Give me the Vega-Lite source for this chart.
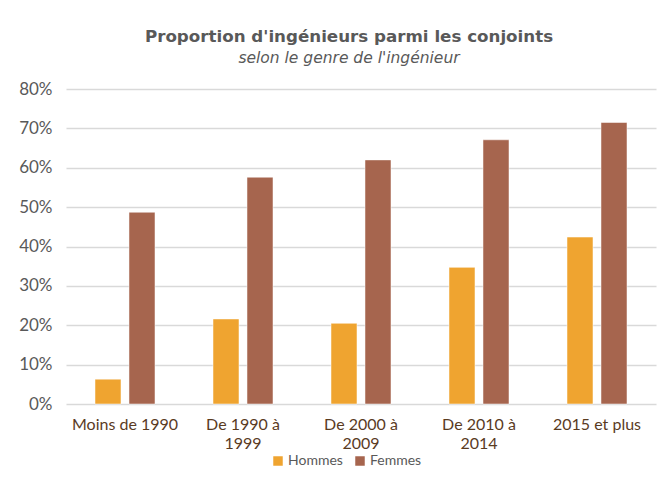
{
  "$schema": "https://vega.github.io/schema/vega-lite/v6.json",
  "width": 590,
  "height": 315,
  "autosize": {"type": "none"},
  "padding": {"left": 66, "top": 89, "right": 12, "bottom": 75},
  "background": "white",
  "title": {
    "text": "Proportion d'ingénieurs parmi les conjoints",
    "subtitle": "selon le genre de l'ingénieur",
    "anchor": "middle",
    "frame": "group",
    "dx": -12,
    "offset": 14,
    "font": "DejaVu Sans",
    "fontSize": 16.7,
    "fontWeight": "bold",
    "color": "#595959",
    "subtitleFont": "DejaVu Sans",
    "subtitleFontSize": 15.5,
    "subtitleFontStyle": "italic",
    "subtitleColor": "#595959",
    "subtitlePadding": 5
  },
  "data": {
    "values": [
      {"periode": "Moins de 1990", "genre": "Hommes", "valeur": 6.3},
      {"periode": "Moins de 1990", "genre": "Femmes", "valeur": 48.7},
      {"periode": "De 1990 à 1999", "genre": "Hommes", "valeur": 21.6},
      {"periode": "De 1990 à 1999", "genre": "Femmes", "valeur": 57.6},
      {"periode": "De 2000 à 2009", "genre": "Hommes", "valeur": 20.5},
      {"periode": "De 2000 à 2009", "genre": "Femmes", "valeur": 62.0},
      {"periode": "De 2010 à 2014", "genre": "Hommes", "valeur": 34.7},
      {"periode": "De 2010 à 2014", "genre": "Femmes", "valeur": 67.1},
      {"periode": "2015 et plus", "genre": "Hommes", "valeur": 42.4},
      {"periode": "2015 et plus", "genre": "Femmes", "valeur": 71.5}
    ]
  },
  "mark": {"type": "bar", "stroke": "#ffffff", "strokeOpacity": 0.5, "strokeWidth": 1},
  "encoding": {
    "x": {
      "field": "periode",
      "type": "nominal",
      "sort": null,
      "title": null,
      "scale": {"paddingInner": 0, "paddingOuter": 0},
      "axis": {
        "labelAngle": 0,
        "labelExpr": "length(datum.value) > 13 ? [substring(datum.value, 0, 9), substring(datum.value, 10)] : datum.value",
        "labelFont": "Lato",
        "labelFontSize": 16,
        "labelColor": "#5a3b1f",
        "labelPadding": 12,
        "labelLineHeight": 19,
        "ticks": false,
        "domain": false
      }
    },
    "xOffset": {
      "field": "genre",
      "type": "nominal",
      "sort": ["Hommes", "Femmes"],
      "scale": {"paddingInner": 0.235, "paddingOuter": 0.853}
    },
    "y": {
      "field": "valeur",
      "type": "quantitative",
      "title": null,
      "scale": {"domain": [0, 80]},
      "axis": {
        "values": [0, 10, 20, 30, 40, 50, 60, 70, 80],
        "labelExpr": "datum.value + '%'",
        "labelFont": "Lato",
        "labelFontSize": 17,
        "labelColor": "#595959",
        "labelPadding": 14,
        "ticks": false,
        "domain": false,
        "gridColor": "#d9d9d9",
        "gridWidth": 1.5
      }
    },
    "color": {
      "field": "genre",
      "type": "nominal",
      "sort": ["Hommes", "Femmes"],
      "scale": {"domain": ["Hommes", "Femmes"], "range": ["#efa430", "#a6654e"]},
      "legend": {
        "title": null,
        "orient": "none",
        "direction": "horizontal",
        "legendX": 205,
        "legendY": 365,
        "symbolType": "square",
        "symbolSize": 90,
        "symbolStrokeWidth": 0,
        "labelFont": "Lato",
        "labelFontSize": 14,
        "labelColor": "#595959",
        "labelOffset": 3,
        "columnPadding": 10
      }
    }
  },
  "config": {
    "view": {"stroke": null}
  }
}
